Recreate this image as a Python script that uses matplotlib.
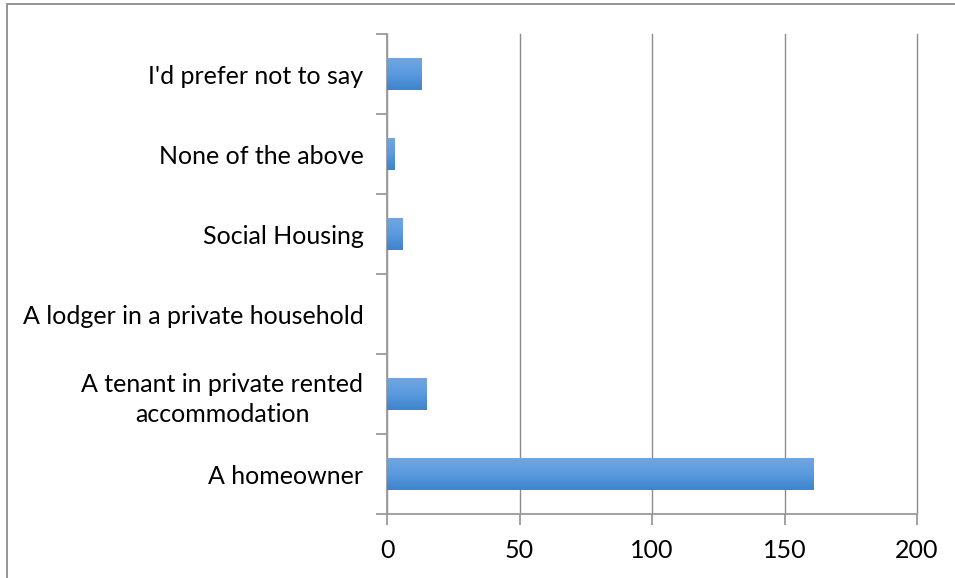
import matplotlib
matplotlib.use('Agg')
import matplotlib.pyplot as plt
import numpy as np
from matplotlib.patches import Rectangle

plt.rcParams['font.family'] = ['Lato', 'DejaVu Sans']

categories = ['A homeowner',
              'A tenant in private rented\naccommodation',
              'A lodger in a private household',
              'Social Housing',
              'None of the above',
              "I'd prefer not to say"]
counts = [161, 15, 0, 6, 3, 13]
xticks = [0, 50, 100, 150, 200]

fig = plt.figure(figsize=(9.55, 5.78), dpi=100)
ax = fig.add_axes([387 / 955, 1 - 514 / 578, 530 / 955, 480 / 578])

# outer chart border (right and bottom sides run off the picture)
fig.patches.append(Rectangle((7 / 955, -0.05), 1.0, 1 - 4 / 578 + 0.05,
                             transform=fig.transFigure, fill=False,
                             edgecolor='#8c8c8c', linewidth=1.3))

y = np.arange(len(categories))
bars = ax.barh(y, counts, height=0.41, color='#5596d8', zorder=3)

# vertical gradient, light on top, darker at the bottom
grad = np.linspace(0, 1, 64).reshape(-1, 1)
cmap = matplotlib.colors.LinearSegmentedColormap.from_list(
    'bar', ['#74a6de', '#5a9ae0', '#3f84cc'])
for b in bars:
    if b.get_width() <= 0:
        continue
    x0, y0 = b.get_x(), b.get_y()
    im = ax.imshow(grad, cmap=cmap, aspect='auto', origin='upper',
                   extent=(x0, x0 + b.get_width(), y0, y0 + b.get_height()),
                   zorder=4)
    im.set_clip_path(b)

ax.set_xlim(0, 200)
ax.set_ylim(-0.5, len(categories) - 0.5)
ax.set_xticks(xticks)
ax.set_xticklabels([str(t) for t in xticks], fontsize=18)
ax.set_yticks(y)
ax.set_yticklabels(categories, fontsize=18, multialignment='center',
                   linespacing=1.35)
ax.set_yticks(np.arange(-0.5, len(categories)), minor=True)

ax.grid(axis='x', color='#8c8c8c', linewidth=1.0, zorder=0)
for gl in ax.get_xgridlines():
    gl.set_clip_on(False)
for s in ['top', 'right']:
    ax.spines[s].set_visible(False)
for s in ['left', 'bottom']:
    ax.spines[s].set_color('#9a9a9a')
    ax.spines[s].set_linewidth(1.3)

ax.tick_params(axis='y', which='major', length=0, pad=17)
ax.tick_params(axis='y', which='minor', length=8, width=1.3, color='#9a9a9a')
ax.tick_params(axis='x', length=8, width=1.3, color='#9a9a9a', pad=10)

fig.savefig('out.png', dpi=100)
